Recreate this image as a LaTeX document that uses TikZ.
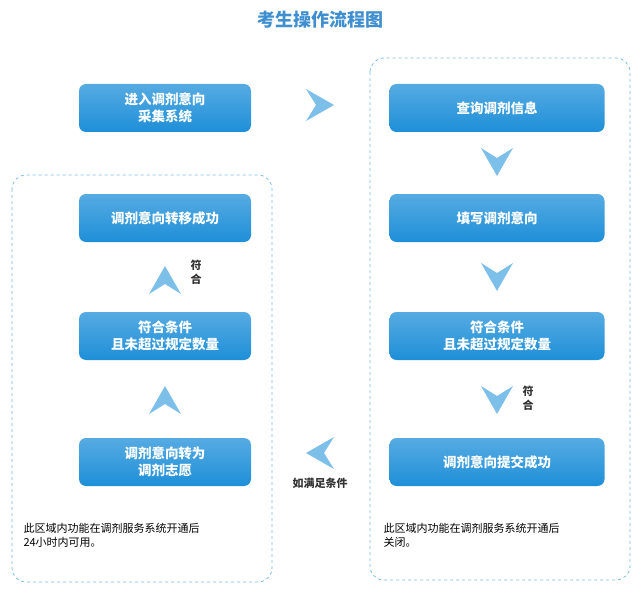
\documentclass[tikz,border=0pt]{standalone}
\usepackage{fontspec}
\setmainfont{Noto Sans CJK SC}
\usetikzlibrary{positioning}
\definecolor{stepblue}{HTML}{1E8FD8}
\definecolor{chevblue}{HTML}{7CC0EA}
\definecolor{titleblue}{HTML}{3E8ED0}
\tikzset{
  stepbox/.style={rounded corners=7pt,top color=stepblue!75,bottom color=stepblue,
    draw=none,text=white,font=\bfseries\fontsize{13.5}{17}\selectfont,
    minimum width=172pt,minimum height=48pt,align=center},
  areabox/.style={draw=stepblue!60,dashed,rounded corners=14pt,line width=0.8pt},
  note/.style={font=\fontsize{11}{14}\selectfont,align=left,anchor=north west},
  tag/.style={font=\bfseries\fontsize{11}{14}\selectfont,text=black!80,align=center},
  chev/.pic={\fill[chevblue] (-16,-14) -- (0,14) -- (16,-14) -- (0,-4) -- cycle;}
}
\begin{document}
\begin{tikzpicture}[x=1pt,y=-1pt]
\useasboundingbox (0,0) rectangle (641,594);
\node[text=titleblue,font=\bfseries\fontsize{18}{20}\selectfont] (title) at (320,20) {考生操作流程图};
% dashed areas
\draw[areabox] (370,58) rectangle (630,580);
\draw[areabox] (12,175) rectangle (272,582);
% steps
\node[stepbox] (entry) at (165,108) {进入调剂意向\\采集系统};
\node[stepbox,minimum width=215pt] (query) at (497,108) {查询调剂信息};
\node[stepbox,minimum width=215pt] (fill) at (497,218) {填写调剂意向};
\node[stepbox,minimum width=215pt] (checkR) at (497,336) {符合条件\\且未超过规定数量};
\node[stepbox,minimum width=215pt] (submit) at (497,462) {调剂意向提交成功};
\node[stepbox] (moved) at (165,218) {调剂意向转移成功};
\node[stepbox] (checkL) at (165,336) {符合条件\\且未超过规定数量};
\node[stepbox] (turn) at (165,462) {调剂意向转为\\调剂志愿};
% chevrons
\pic[rotate=90] at (320,105) {chev};
\pic at (497,162) {chev};
\pic at (497,277) {chev};
\pic at (497,400) {chev};
\pic[rotate=180] at (165,280) {chev};
\pic[rotate=180] at (165,400) {chev};
\pic[rotate=-90] at (320,453) {chev};
% labels
\node[tag] (okR) at (528,398) {符\\合};
\node[tag] (okL) at (196,272) {符\\合};
\node[tag] (cond) at (320,483) {如满足条件};
\node[note] (noteL) at (20,520) {此区域内功能在调剂服务系统开通后\\24小时内可用。};
\node[note] (noteR) at (380,520) {此区域内功能在调剂服务系统开通后\\关闭。};
\end{tikzpicture}
\end{document}
